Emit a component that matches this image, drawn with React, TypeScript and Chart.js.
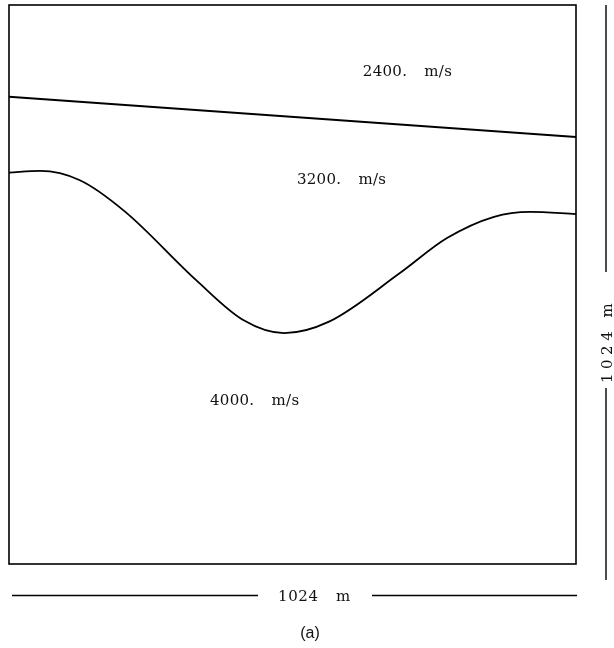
import React, { useEffect, useRef } from "react";
import { Chart, registerables } from "chart.js";

Chart.register(...registerables);

// Model size (metres)
const MODEL_WIDTH = 1024;
const MODEL_DEPTH = 1024;

// Interface 1: nearly flat dipping reflector (x in m, depth in m)
const interface1X = [0, 1024];
const interface1Z = [168, 242];

// Interface 2: syncline-shaped reflector
const interface2X = [0, 56, 128, 209, 338, 423, 497, 578, 706, 791, 876, 941, 1024];
const interface2Z = [307, 304, 321, 378, 504, 577, 601, 580, 491, 427, 388, 379, 383];

// Layer velocity labels
const layerLabels = ["2400. m/s", "3200. m/s", "4000. m/s"];
const layerLabelX = [639, 520, 363];
const layerLabelZ = [130, 328, 733];

const widthLabel = "1024 m";
const depthLabel = "1024 m";
const captionLabel = "(a)";

export default function App() {
  const canvasRef = useRef<HTMLCanvasElement | null>(null);

  useEffect(() => {
    const canvas = canvasRef.current;
    if (!canvas) return;

    const overlay = {
      id: "overlay",
      afterDraw(chart: any) {
        const ctx = chart.ctx as CanvasRenderingContext2D;
        const { left, right, top, bottom } = chart.chartArea;
        const xs = chart.scales.x;
        const ys = chart.scales.y;
        ctx.save();
        // frame
        ctx.strokeStyle = "#000";
        ctx.lineWidth = 1.6;
        ctx.strokeRect(left, top, right - left, bottom - top);

        // layer labels
        ctx.fillStyle = "#111";
        ctx.font = '15px "DejaVu Serif"';
        (ctx as any).letterSpacing = "0.3px";
        (ctx as any).wordSpacing = "12px";
        ctx.textAlign = "left";
        ctx.textBaseline = "alphabetic";
        layerLabels.forEach((t, i) => {
          ctx.fillText(t, xs.getPixelForValue(layerLabelX[i]), ys.getPixelForValue(layerLabelZ[i]));
        });

        // bottom dimension
        const by = bottom + 31.5;
        ctx.lineWidth = 1.4;
        ctx.beginPath();
        ctx.moveTo(left + 3, by);
        ctx.lineTo(left + 249, by);
        ctx.moveTo(left + 363, by);
        ctx.lineTo(right + 1, by);
        ctx.stroke();
        (ctx as any).letterSpacing = "0.6px";
        (ctx as any).wordSpacing = "12px";
        ctx.textAlign = "left";
        ctx.fillText(widthLabel, 278, bottom + 37);

        // right dimension
        const rx = right + 30;
        ctx.beginPath();
        ctx.moveTo(rx, top);
        ctx.lineTo(rx, top + 267);
        ctx.moveTo(rx, top + 383);
        ctx.lineTo(rx, bottom + 16);
        ctx.stroke();
        ctx.save();
        ctx.translate(rx + 6, top + 378);
        ctx.rotate(-Math.PI / 2);
        (ctx as any).letterSpacing = "4.5px";
        (ctx as any).wordSpacing = "0px";
        ctx.textAlign = "left";
        ctx.textBaseline = "alphabetic";
        ctx.fillText(depthLabel, 0, 0);
        ctx.restore();

        // caption
        (ctx as any).letterSpacing = "0px";
        (ctx as any).wordSpacing = "0px";
        ctx.font = '16px "Liberation Sans"';
        ctx.textAlign = "center";
        ctx.fillText(captionLabel, 310, bottom + 74);
        ctx.restore();
      },
    };

    const chart = new Chart(canvas, {
      type: "line",
      data: {
        datasets: [
          {
            data: interface1X.map((x, i) => ({ x, y: interface1Z[i] })),
            borderColor: "#000",
            borderWidth: 2,
            pointRadius: 0,
            fill: false,
          },
          {
            data: interface2X.map((x, i) => ({ x, y: interface2Z[i] })),
            borderColor: "#000",
            borderWidth: 1.8,
            pointRadius: 0,
            fill: false,
            cubicInterpolationMode: "monotone",
          },
        ],
      },
      options: {
        animation: false,
        responsive: true,
        maintainAspectRatio: false,
        layout: { padding: { left: 9, top: 5, right: 38, bottom: 84 } },
        plugins: { legend: { display: false }, tooltip: { enabled: false } },
        scales: {
          x: { type: "linear", min: 0, max: MODEL_WIDTH, display: false },
          y: { type: "linear", min: 0, max: MODEL_DEPTH, reverse: true, display: false },
        },
      },
      plugins: [overlay],
    });

    return () => chart.destroy();
  }, []);

  return (
    <div style={{ position: "fixed", left: 0, top: 0, width: 614, height: 648, background: "#fff" }}>
      <canvas ref={canvasRef} />
    </div>
  );
}
